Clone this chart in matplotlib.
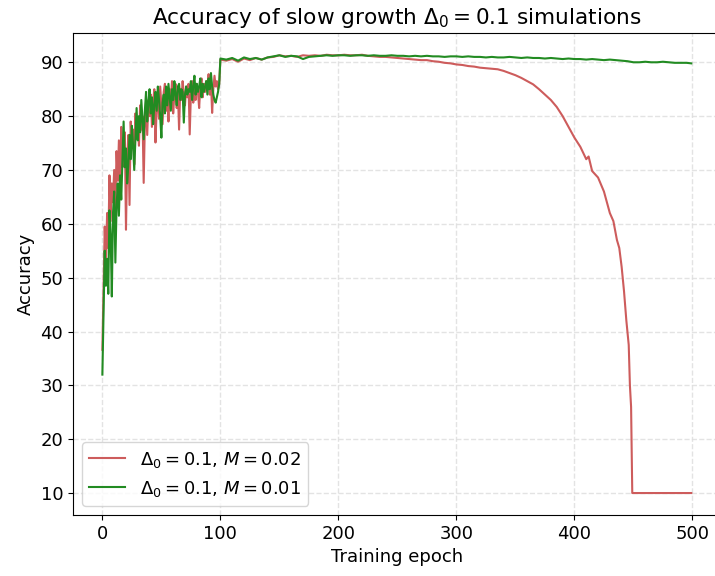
import matplotlib
matplotlib.use("Agg")
import matplotlib.pyplot as plt
import numpy as np

# epochs 0..100, read per epoch off the picture
early_epochs = list(range(0, 101))

red_early = [36.6, 48.0, 59.5, 52.0, 62.0, 55.5, 69.0, 60.5, 67.5, 64.0,
             70.0, 62.5, 73.5, 68.0, 75.5, 66.0, 78.0, 70.5, 74.0, 77.0,
             58.9, 72.0, 76.5, 63.5, 79.0, 74.0, 77.5, 71.0, 80.5, 76.0,
             79.0, 74.5, 82.0, 77.5, 80.0, 67.6, 78.5, 82.5, 76.5, 83.0,
             80.0, 84.0, 78.0, 82.5, 85.0, 75.1, 81.5, 83.5, 79.5, 85.5,
             82.0, 78.5, 84.5, 86.0, 81.0, 83.5, 79.0, 85.0, 82.5, 86.5,
             80.5, 84.0, 86.0, 81.5, 84.5, 77.5, 85.0, 83.0, 86.5, 84.0,
             82.0, 85.5, 83.5, 86.0, 76.6, 84.0, 86.5, 82.5, 85.0, 83.0,
             86.0, 84.5, 81.5, 85.5, 87.0, 83.5, 86.0, 84.5, 86.5, 85.0,
             87.8, 84.0, 86.5, 80.6, 85.0, 87.5, 85.5, 86.5, 85.0, 86.0,
             90.5]

green_early = [32.0, 44.0, 55.0, 48.5, 53.5, 47.0, 62.5, 58.0, 46.5, 62.0,
               66.0, 52.8, 63.0, 67.5, 61.5, 69.0, 64.5, 72.0, 79.0, 70.5,
               74.0, 67.5, 71.0, 76.5, 72.0, 78.2, 74.5, 70.0, 76.0, 81.5,
               75.5, 80.0, 77.0, 83.0, 79.5, 75.7, 81.0, 84.5, 79.0, 82.5,
               85.0, 80.5, 83.5, 78.5, 82.0, 84.5, 81.0, 85.5, 83.0, 80.0,
               76.0, 82.5, 84.0, 80.5, 85.5, 82.0, 86.0, 83.5, 81.0, 85.0,
               83.0, 86.5, 84.0, 82.0, 85.5, 86.0, 83.0, 85.0, 84.5, 78.8,
               84.0, 85.5, 84.0, 85.0, 84.5, 86.5, 83.0, 85.5, 87.5, 84.0,
               86.0, 84.5, 85.5, 87.0, 83.5, 86.0, 84.5, 85.5, 86.5, 84.0,
               87.0, 85.0, 88.0, 85.5, 84.0, 83.0, 82.5, 83.5, 84.5, 86.0,
               90.7]

# later epochs, read at coarser steps
red_late_epochs = [105, 110, 115, 120, 125, 130, 135, 140, 145, 150,
                   155, 160, 165, 170, 175, 180, 185, 190, 195, 200,
                   205, 210, 215, 220, 225, 230, 235, 240, 245, 250,
                   255, 260, 265, 270, 275, 280, 285, 290, 295, 300,
                   305, 310, 315, 320, 325, 330, 335, 340, 345, 350,
                   355, 360, 365, 370, 375, 380, 385, 390, 395, 400,
                   405, 410, 412, 415, 420, 425, 430, 433, 436, 438,
                   440, 442, 444, 446, 447, 448, 449, 499]
red_late = [90.3, 90.6, 90.1, 90.7, 90.4, 90.8, 90.5, 90.9, 91.0, 91.3,
            91.1, 91.2, 91.0, 91.3, 91.2, 91.3, 91.2, 91.4, 91.3, 91.3,
            91.4, 91.3, 91.3, 91.4, 91.2, 91.1, 91.0, 91.0, 90.9, 90.8,
            90.7, 90.6, 90.5, 90.4, 90.4, 90.2, 90.1, 89.9, 89.8, 89.6,
            89.5, 89.3, 89.2, 89.0, 88.9, 88.8, 88.7, 88.4, 88.0, 87.6,
            87.1, 86.5, 85.9, 85.0, 84.0, 83.0, 81.7, 80.0, 78.0, 76.0,
            74.3, 72.0, 72.5, 69.8, 68.6, 66.0, 62.0, 60.5, 57.0, 55.5,
            52.0, 47.5, 42.0, 37.5, 30.0, 26.0, 10.0, 10.0]

green_late_epochs = list(range(105, 500, 5)) + [499]
green_late = [90.5, 90.8, 90.3, 90.9, 90.6, 90.8, 90.5, 90.9, 91.1, 91.3,
              91.0, 91.2, 91.1, 90.6, 91.0, 91.1, 91.2, 91.3, 91.2, 91.3,
              91.3, 91.2, 91.3, 91.3, 91.2, 91.3, 91.2, 91.2, 91.3, 91.2,
              91.2, 91.1, 91.2, 91.1, 91.2, 91.1, 91.1, 91.0, 91.1, 91.1,
              91.0, 91.1, 91.0, 91.0, 90.9, 91.0, 90.9, 90.9, 91.0, 90.9,
              90.8, 90.9, 90.8, 90.8, 90.7, 90.8, 90.7, 90.6, 90.7, 90.6,
              90.6, 90.5, 90.6, 90.5, 90.4, 90.5, 90.4, 90.3, 90.2, 90.0,
              90.0, 90.1, 90.0, 90.0, 90.1, 90.0, 89.9, 89.9, 89.9, 89.8]

red_x = early_epochs + red_late_epochs
red_y = red_early + red_late
green_x = early_epochs + green_late_epochs
green_y = green_early + green_late

plt.rcParams['font.size'] = 13

fig = plt.figure(figsize=(7.15, 5.76), dpi=100)
ax = fig.add_axes([0.102, 0.106, 0.906, 0.837])

ax.plot(red_x, red_y, color="indianred", lw=1.5, label=r"$\Delta_0 = 0.1$, $M = 0.02$")
ax.plot(green_x, green_y, color="forestgreen", lw=1.5, label=r"$\Delta_0 = 0.1$, $M = 0.01$")

ax.set_xticks([0, 100, 200, 300, 400, 500])
ax.set_yticks([10, 20, 30, 40, 50, 60, 70, 80, 90])
ax.grid(True, linestyle="--", color="#dddddd", lw=1, alpha=0.8)
ax.set_xlabel("Training epoch")
ax.set_ylabel("Accuracy")
ax.set_title(r"Accuracy of slow growth $\Delta_0 = 0.1$ simulations")
ax.legend(loc="lower left")

fig.savefig("out.png", dpi=100)
